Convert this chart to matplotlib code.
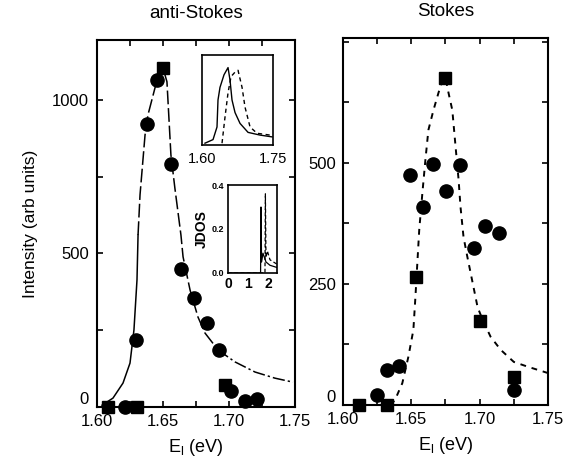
import numpy as np
import matplotlib.pyplot as plt

plt.rcParams['font.family'] = ['Liberation Sans', 'DejaVu Sans']

# ---- anti-Stokes: measured points (E_l in eV, intensity in arb units)
as_sq_e = [1.6083, 1.6303, 1.650, 1.697]
as_sq_i = [0, 0, 1104, 72]
as_ci_e = [1.6212, 1.6295, 1.638, 1.6455, 1.656, 1.664, 1.6735, 1.6835,
           1.6927, 1.7015, 1.712, 1.721]
as_ci_i = [0, 218, 922, 1065, 792, 450, 355, 273, 186, 52, 20, 25]

# anti-Stokes calculated profile
as_fit_e = [1.6038, 1.6121, 1.6197, 1.625, 1.628, 1.6303, 1.6311, 1.6326,
            1.6364, 1.6386, 1.6455, 1.650, 1.653, 1.656, 1.659, 1.6636,
            1.6652, 1.6705, 1.6765, 1.6818, 1.6917, 1.7045, 1.7197, 1.7348,
            1.7485]
as_fit_i = [6, 29, 78, 143, 251, 414, 560, 691, 886, 951, 1065, 1104, 1059,
            821, 713, 560, 489, 381, 293, 241, 186, 147, 114, 94, 81]

# ---- Stokes: measured points
st_sq_e = [1.6118, 1.6324, 1.6537, 1.675, 1.700, 1.725]
st_sq_i = [0, 0, 264, 676, 174, 58]
st_ci_e = [1.625, 1.6324, 1.641, 1.6493, 1.6588, 1.6662, 1.6757, 1.6853,
           1.6956, 1.7037, 1.714, 1.725]
st_ci_i = [21, 72, 81, 475, 409, 498, 442, 496, 324, 370, 355, 31]

# Stokes calculated profile
st_fit_e = [1.6346, 1.638, 1.6434, 1.6478, 1.6515, 1.653, 1.6544, 1.6558,
            1.6581, 1.6603, 1.6625, 1.6662, 1.6699, 1.6728, 1.675, 1.6772,
            1.680, 1.6824, 1.6846, 1.686, 1.6882, 1.691, 1.6949, 1.6985,
            1.7022, 1.708, 1.7154, 1.725, 1.7353, 1.75]
st_fit_i = [0, 10, 45, 99, 155, 223, 293, 362, 438, 506, 568, 609, 645, 671,
            676, 645, 609, 533, 465, 409, 347, 306, 252, 202, 176, 141, 114,
            89, 79, 66]

# ---- inset: normalised profiles
in_as_e = [1.6063, 1.6233, 1.6317, 1.6338, 1.638, 1.6465, 1.655, 1.6592,
           1.6634, 1.6698, 1.6803, 1.6973, 1.7226, 1.748]
in_as_i = [0.02, 0.06, 0.20, 0.50, 0.64, 0.78, 0.86, 0.72, 0.50, 0.36, 0.24,
           0.14, 0.11, 0.09]
in_st_e = [1.6423, 1.6486, 1.655, 1.6613, 1.6698, 1.6761, 1.6846, 1.6909,
           1.7015, 1.7163, 1.7437]
in_st_i = [0.02, 0.31, 0.58, 0.76, 0.81, 0.83, 0.64, 0.42, 0.20, 0.13, 0.11]

# ---- inset: joint density of states
jd_a_e = [0.0, 1.63, 1.65, 1.68, 1.75, 1.90, 2.10, 2.45]
jd_a_v = [0.0, 0.0, 0.30, 0.05, 0.09, 0.05, 0.035, 0.025]
jd_b_e = [0.0, 1.85, 1.87, 1.90, 1.97, 2.10, 2.45]
jd_b_v = [0.0, 0.0, 0.36, 0.07, 0.10, 0.06, 0.04]

fig = plt.figure(figsize=(5.75, 4.68), dpi=100)

ms_c = 9.5
ms_s = 8


def style_axes(ax):
    for s in ax.spines.values():
        s.set_linewidth(1.5)
    ax.tick_params(direction='in', which='both', top=True, right=True,
                   length=4.5, width=1.2, labelsize=12)


# ---------------- anti-Stokes panel
ax1 = fig.add_axes([0.1687, 0.1303, 0.3443, 0.7842])
k = as_fit_e.index(1.6311)
m = as_fit_e.index(1.6917)
ax1.plot(as_fit_e[:k + 1], as_fit_i[:k + 1], color='k', lw=1.1)
ax1.plot(as_fit_e[k:m + 1], as_fit_i[k:m + 1], color='k', lw=1.1,
         dashes=(9, 2.5))
ax1.plot(as_fit_e[m:], as_fit_i[m:], color='k', lw=1.1,
         dashes=(8, 2, 1.5, 2))
ax1.plot(as_ci_e, as_ci_i, 'o', color='k', ms=ms_c, clip_on=False)
ax1.plot(as_sq_e, as_sq_i, 's', color='k', ms=ms_s, clip_on=False)
ax1.set_xlim(1.60, 1.75)
ax1.set_ylim(0, 1195)
ax1.set_xticks(np.arange(1.60, 1.7501, 0.025))
ax1.set_xticklabels(['1.60', '', '1.65', '', '1.70', '', '1.75'])
ax1.set_yticks([0, 250, 500, 750, 1000])
ax1.set_yticklabels(['0', '', '500', '', '1000'])
style_axes(ax1)
ax1.tick_params(axis='x', pad=5)
ax1.tick_params(axis='y', pad=6)
ax1.get_yticklabels()[0].set_verticalalignment('bottom')
ax1.set_xlabel('E$_\\mathregular{l}$ (eV)', fontsize=13, labelpad=6)
ax1.set_ylabel('Intensity (arb units)', fontsize=12.5, labelpad=10)
ax1.set_title('anti-Stokes', fontsize=13.5, pad=16)

# ---------------- Stokes panel
ax2 = fig.add_axes([0.5965, 0.1346, 0.3565, 0.7842])
ax2.plot(st_fit_e, st_fit_i, color='k', lw=1.4, dashes=(3, 3))
ax2.plot(st_ci_e, st_ci_i, 'o', color='k', ms=ms_c, clip_on=False)
ax2.plot(st_sq_e, st_sq_i, 's', color='k', ms=ms_s, clip_on=False)
ax2.set_xlim(1.60, 1.75)
ax2.set_ylim(0, 758)
ax2.set_xticks(np.arange(1.60, 1.7501, 0.025))
ax2.set_xticklabels(['1.60', '', '1.65', '', '1.70', '', '1.75'])
ax2.set_yticks([0, 125, 250, 375, 500, 625, 750])
ax2.set_yticklabels(['0', '', '250', '', '500', '', ''])
style_axes(ax2)
ax2.tick_params(axis='x', pad=5)
ax2.tick_params(axis='y', pad=5)
ax2.get_yticklabels()[0].set_verticalalignment('bottom')
ax2.set_xlabel('E$_\\mathregular{l}$ (eV)', fontsize=13, labelpad=6)
ax2.set_title('Stokes', fontsize=13.5, pad=16)

# ---------------- inset: normalised line shapes
ax3 = fig.add_axes([0.3513, 0.6902, 0.1235, 0.1923])
ax3.plot(in_as_e, in_as_i, color='k', lw=1.0)
ax3.plot(in_st_e, in_st_i, color='k', lw=1.0, dashes=(3, 2.5))
ax3.set_xlim(1.60, 1.75)
ax3.set_ylim(0, 1.0)
ax3.set_xticks([1.60, 1.75])
ax3.set_xticklabels(['1.60', '1.75'])
ax3.set_yticks([])
for s in ax3.spines.values():
    s.set_linewidth(1.2)
ax3.tick_params(axis='x', length=0, labelsize=10.5, pad=5)

# ---------------- inset: JDOS
ax4 = fig.add_axes([0.3965, 0.4167, 0.0852, 0.188])
ax4.plot(jd_a_e, jd_a_v, color='k', lw=0.9)
ax4.plot(jd_b_e, jd_b_v, color='k', lw=0.9, dashes=(3, 2))
ax4.set_xlim(0, 2.45)
ax4.set_ylim(0, 0.4)
ax4.set_xticks([0, 1, 2])
ax4.set_yticks([0.0, 0.2, 0.4])
ax4.set_yticklabels(['0.0', '0.2', '0.4'], fontsize=6.5, fontweight='bold')
ax4.set_xticklabels(['0', '1', '2'], fontsize=10, fontweight='bold')
for s in ax4.spines.values():
    s.set_linewidth(1.2)
ax4.tick_params(length=0, pad=3)
ax4.set_ylabel('JDOS', fontsize=10, fontweight='bold', labelpad=2)

fig.savefig('out.png', dpi=100)
